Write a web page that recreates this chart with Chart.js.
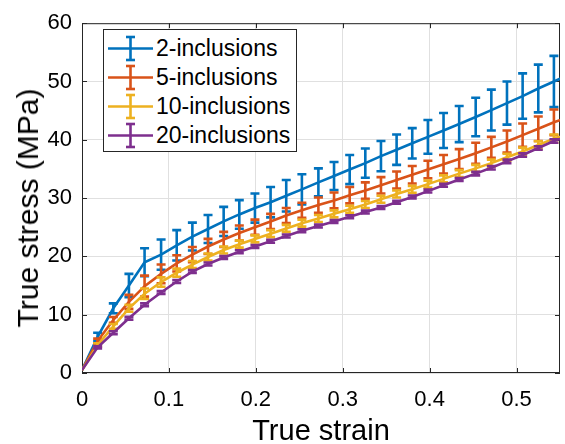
<!DOCTYPE html>
<html>
<head>
<meta charset="utf-8">
<script src="https://cdn.jsdelivr.net/npm/chart.js@4.4.1/dist/chart.umd.min.js"></script>
<style>
    body { margin: 0; background: #fff; }
    #wrap { position: relative; width: 565px; height: 444px; font-family: "Liberation Sans", Arial, Helvetica, sans-serif; color: #000; }
    #chart { position: absolute; left: 0; top: 0; }
    .title { position: absolute; line-height: 1; white-space: nowrap; }
    #xTitle { font-size: 29px; left: 321px; top: 416px; transform: translateX(-50%); }
    #yTitle { font-size: 30px; left: 28px; top: 208px; transform: translate(-50%, -50%) rotate(-90deg); }
    #legend { position: absolute; left: 103px; top: 29px; width: 194px; height: 123px; border: 1px solid #262626; background: #fff; box-sizing: border-box; }
    .row { position: absolute; left: 0; width: 100%; height: 29px; }
    .row svg { position: absolute; left: 0; top: 0; }
    .row span { position: absolute; left: 52px; top: 0; font-size: 23px; line-height: 29px; white-space: nowrap; }
</style>
</head>
<body>
<div id="wrap">
    <canvas id="chart" width="565" height="444"></canvas>
    <div id="legend"></div>
    <div class="title" id="xTitle">True strain</div>
    <div class="title" id="yTitle">True stress (MPa)</div>
</div>
<script>
// strain values of the samples (last one lies just past the axis)
const strain = [0, 0.018, 0.036, 0.054, 0.072, 0.091, 0.109, 0.127, 0.145, 0.163, 0.181, 0.199, 0.217, 0.235, 0.253, 0.272,
    0.29, 0.308, 0.326, 0.344, 0.362, 0.38, 0.398, 0.416, 0.434, 0.453, 0.471, 0.489, 0.507, 0.525, 0.543, 0.561]

const stress2 = [0.5, 6.2, 11.1, 15.0, 19.0, 20.3, 21.9, 23.4, 24.7, 26.0, 27.2, 28.3, 29.3, 30.4, 31.5, 32.7,
    33.8, 34.9, 36.0, 37.2, 38.3, 39.4, 40.5, 41.6, 42.7, 43.9, 45.1, 46.3, 47.5, 48.8, 50.0, 51.2]
const err2 = [0, 0.7, 0.85, 2.0, 2.4, 2.6, 2.6, 2.4, 2.4, 2.5, 2.45, 2.5, 2.6, 2.7, 2.6, 2.4,
    2.4, 2.5, 2.5, 2.6, 2.6, 2.6, 2.9, 3.0, 3.1, 3.3, 3.5, 3.7, 3.9, 4.1, 4.4, 4.5]

const stress5 = [0.5, 5.5, 9.1, 12.2, 14.9, 17.0, 18.8, 20.3, 21.7, 22.9, 24.0, 25.0, 26.0, 27.0, 27.9, 28.8,
    29.6, 30.5, 31.3, 32.2, 33.1, 34.0, 34.9, 35.8, 36.7, 37.7, 38.7, 39.7, 40.8, 41.9, 43.0, 44.0]
const err5 = [0, 0.4, 0.5, 1.2, 1.8, 1.6, 1.4, 1.3, 1.3, 1.3, 1.3, 1.3, 1.3, 1.3, 1.3, 1.3,
    1.35, 1.4, 1.4, 1.4, 1.45, 1.5, 1.5, 1.6, 1.7, 1.8, 1.8, 1.9, 2.0, 2.1, 2.2, 2.2]

const stress10 = [0.5, 4.8, 8.0, 11.1, 13.6, 15.6, 17.2, 18.6, 19.9, 21.1, 22.1, 23.0, 23.9, 24.8, 25.7, 26.5,
    27.3, 28.1, 28.9, 29.8, 30.7, 31.5, 32.4, 33.3, 34.2, 35.1, 36.0, 37.0, 38.0, 39.1, 40.2, 41.0]
const err10 = [0, 0.3, 0.4, 0.6, 0.9, 0.8, 0.7, 0.6, 0.6, 0.6, 0.6, 0.6, 0.6, 0.6, 0.6, 0.6,
    0.6, 0.6, 0.6, 0.6, 0.6, 0.6, 0.6, 0.6, 0.6, 0.6, 0.6, 0.6, 0.65, 0.65, 0.7, 0.7]

const stress20 = [0.5, 4.4, 6.9, 9.4, 11.7, 13.8, 15.7, 17.4, 18.7, 19.8, 20.8, 21.7, 22.6, 23.5, 24.4, 25.2,
    26.0, 26.8, 27.6, 28.4, 29.3, 30.2, 31.2, 32.2, 33.2, 34.2, 35.2, 36.3, 37.4, 38.6, 39.8, 40.7]
const err20 = [0, 0.2, 0.25, 0.25, 0.25, 0.25, 0.25, 0.25, 0.25, 0.25, 0.25, 0.25, 0.25, 0.25, 0.25, 0.25,
    0.25, 0.25, 0.25, 0.25, 0.25, 0.25, 0.25, 0.25, 0.25, 0.3, 0.3, 0.3, 0.3, 0.3, 0.3, 0.3]

const seriesNames = ['2-inclusions', '5-inclusions', '10-inclusions', '20-inclusions']
const xTicks = [0, 0.1, 0.2, 0.3, 0.4, 0.5]
const yTicks = [0, 10, 20, 30, 40, 50, 60]

const seriesValues = [stress2, stress5, stress10, stress20]
const seriesErrors = [err2, err5, err10, err20]
const colors = ['#0072BD', '#D95319', '#EDB120', '#7E2F8E']
const fontFamily = '"Liberation Sans", Arial, Helvetica, sans-serif'

// Legend (html, inside the axes)
const legend = document.getElementById('legend')
seriesNames.forEach(function (name, i) {
    const row = document.createElement('div')
    row.className = 'row'
    row.style.top = (4 + i * 29) + 'px'
    const c = colors[i]
    row.innerHTML = `<svg width="52" height="29">
        <line x1="4" y1="14.5" x2="49" y2="14.5" stroke="${c}" stroke-width="2.6"/>
        <line x1="26.5" y1="3" x2="26.5" y2="26" stroke="${c}" stroke-width="2.6"/>
        <line x1="22" y1="3" x2="31" y2="3" stroke="${c}" stroke-width="2.6"/>
        <line x1="22" y1="26" x2="31" y2="26" stroke="${c}" stroke-width="2.6"/>
        </svg><span>${name}</span>`
    legend.appendChild(row)
})

// Error bars, drawn right after each line so later series sit on top
const errorBars = {
    id: 'errorBars',
    afterDatasetDraw(chart, args) {
        const ds = chart.data.datasets[args.index]
        if (!ds.errors) return
        const xs = chart.scales.x
        const ys = chart.scales.y
        const area = chart.chartArea
        const ctx = chart.ctx
        ctx.save()
        ctx.beginPath()
        ctx.rect(area.left - 2, area.top - 2, area.right - area.left + 2, area.bottom - area.top + 4)
        ctx.clip()
        ctx.strokeStyle = ds.borderColor
        ctx.lineWidth = 2.6
        ds.data.forEach(function (p, i) {
            const e = ds.errors[i]
            if (!e) return
            const px = xs.getPixelForValue(p.x)
            if (px > area.right + 1) return
            const top = ys.getPixelForValue(p.y + e)
            const bot = ys.getPixelForValue(p.y - e)
            ctx.beginPath()
            ctx.moveTo(px, top)
            ctx.lineTo(px, bot)
            ctx.moveTo(px - 4.5, top)
            ctx.lineTo(px + 4.5, top)
            ctx.moveTo(px - 4.5, bot)
            ctx.lineTo(px + 4.5, bot)
            ctx.stroke()
        })
        ctx.restore()
    }
}

// Box around the axes and inward tick marks (MATLAB style)
const axesBox = {
    id: 'axesBox',
    beforeDatasetsDraw(chart) {
        const { left, right, top, bottom } = chart.chartArea
        const ctx = chart.ctx
        ctx.save()
        ctx.strokeStyle = '#262626'
        ctx.lineWidth = 1
        ctx.strokeRect(left + 0.5, top + 0.5, right - left - 1, bottom - top - 1)
        ctx.beginPath()
        xTicks.forEach(function (v) {
            const x = Math.round(chart.scales.x.getPixelForValue(v)) + 0.5
            ctx.moveTo(x, bottom); ctx.lineTo(x, bottom - 5)
            ctx.moveTo(x, top); ctx.lineTo(x, top + 5)
        })
        yTicks.forEach(function (v) {
            const y = Math.round(chart.scales.y.getPixelForValue(v)) + 0.5
            ctx.moveTo(left, y); ctx.lineTo(left + 5, y)
            ctx.moveTo(right, y); ctx.lineTo(right - 5, y)
        })
        ctx.stroke()
        ctx.restore()
    }
}

const datasets = seriesNames.map(function (name, i) {
    return {
        label: name,
        data: strain.map(function (x, j) { return { x: x, y: seriesValues[i][j] } }),
        errors: seriesErrors[i],
        borderColor: colors[i],
        backgroundColor: colors[i],
        borderWidth: 2.6,
        pointRadius: 0,
        tension: 0,
        fill: false,
        order: seriesNames.length - 1 - i
    }
})

const chart = new Chart(document.getElementById('chart'), {
    type: 'line',
    data: { datasets: datasets },
    options: {
        responsive: false,
        animation: false,
        devicePixelRatio: 1,
        layout: { padding: { top: 16, right: 5, left: 0, bottom: 0 } },
        plugins: { legend: { display: false }, tooltip: { enabled: false } },
        scales: {
            x: {
                type: 'linear',
                min: 0,
                max: 0.55,
                afterBuildTicks: function (s) { s.ticks = xTicks.map(function (v) { return { value: v } }) },
                afterFit: function (s) { s.height = 71 },
                grid: { color: '#e0e0e0', drawTicks: false },
                border: { display: false },
                ticks: {
                    font: { family: fontFamily, size: 22 },
                    color: '#000',
                    padding: 14,
                    maxRotation: 0,
                    autoSkip: false,
                    callback: function (v) { return String(v) }
                }
            },
            y: {
                type: 'linear',
                min: 0,
                max: 60,
                afterBuildTicks: function (s) { s.ticks = yTicks.map(function (v) { return { value: v } }) },
                afterFit: function (s) { s.width = 82 },
                grid: { color: '#e0e0e0', drawTicks: false },
                border: { display: false },
                ticks: {
                    font: { family: fontFamily, size: 22 },
                    color: '#000',
                    padding: 10,
                    autoSkip: false
                }
            }
        }
    },
    plugins: [errorBars, axesBox]
})
</script>
</body>
</html>
